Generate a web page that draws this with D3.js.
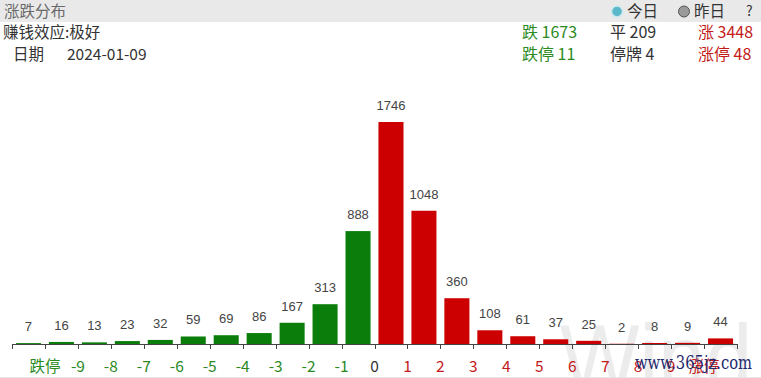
<!DOCTYPE html>
<html><head><meta charset="utf-8">
<script src="https://cdn.jsdelivr.net/npm/d3@7/dist/d3.min.js"></script>
<style>
html,body{margin:0;padding:0;background:#fff;}
svg{display:block;font-family:"Noto Sans CJK SC","Microsoft YaHei",sans-serif;}
</style></head>
<body><svg id="c" width="761" height="378"></svg>
<script>
// Data
const bucketValues = [7,16,13,23,32,59,69,86,167,313,888,1746,1048,360,108,61,37,25,2,8,9,44];
const tickLabels = ["跌停","-9","-8","-7","-6","-5","-4","-3","-2","-1","0","1","2","3","4","5","6","7","8","9","涨停"];
const summaryLeft = ["跌 1673","跌停 11"];
const summaryMid = ["平 209","停牌 4"];
const summaryRight = ["涨 3448","涨停 48"];
const title = "涨跌分布";
const effect = "赚钱效应:极好";
const dateLabel = "日期";
const dateValue = "2024-01-09";
const legendItems = ["今日","昨日"];

const GREEN = "#0a7d0a", RED = "#cc0000";
const LGREEN = "#2a8a1e", LRED = "#c41a1a";

const svg = d3.select("#c");

// header bar
svg.append("rect").attr("x",0).attr("y",0).attr("width",761).attr("height",22).attr("fill","#e9e9e9");
svg.append("text").attr("x",4).attr("y",17).attr("font-size",15.5).attr("fill","#6a6a6a").text(title);

// legend
const legColors = ["#5bb8c9","#9a9a9a"];
const legX = [617, 684];
legendItems.forEach((t,i)=>{
  svg.append("circle").attr("cx",legX[i]).attr("cy",11.5).attr("r",5.5)
    .attr("fill",legColors[i]).attr("stroke", i===0?"#cde9ef":"#555").attr("stroke-width",i===0?1.5:1);
  svg.append("text").attr("x",legX[i]+10).attr("y",17).attr("font-size",15.5).attr("fill","#333").text(t);
});
svg.append("text").attr("x",746).attr("y",16).attr("font-size",14).attr("fill","#333").text("?");

// info rows
svg.append("text").attr("x",3).attr("y",38).attr("font-size",15.5).attr("fill","#333").text(effect);
svg.append("text").attr("x",13).attr("y",60).attr("font-size",15.5).attr("fill","#333").text(dateLabel);
svg.append("text").attr("x",67).attr("y",60).attr("font-size",15.5).attr("fill","#333").text(dateValue);

const rowsY = [38,60];
[[summaryLeft,522,LGREEN],[summaryMid,610,"#333"],[summaryRight,698,LRED]].forEach(([arr,x,col])=>{
  arr.forEach((t,i)=>{
    svg.append("text").attr("x",x).attr("y",rowsY[i]).attr("font-size",16).attr("fill",col).text(t);
  });
});

// watermark Wind
svg.append("text").attr("x",560).attr("y",392).attr("font-size",96)
  .attr("font-family","Liberation Sans, Arial, sans-serif").attr("fill","#ececec")
  .attr("textLength",192).attr("lengthAdjust","spacingAndGlyphs").text("Wind");

// scales
const x = d3.scaleBand().domain(d3.range(bucketValues.length)).range([12,737]).paddingInner(0.24).paddingOuter(0.12);
const step = x.step();
const x0 = 12;
const y = d3.scaleLinear().domain([0,1746]).range([344,122]);

// bars
const redStart = 11;
svg.append("g").selectAll("rect").data(bucketValues).join("rect")
  .attr("x",(d,i)=>x(i)).attr("width",x.bandwidth())
  .attr("y",d=>y(d)).attr("height",d=>344-y(d))
  .attr("fill",(d,i)=> i<redStart?GREEN:RED);

// value labels
svg.append("g").selectAll("text").data(bucketValues).join("text")
  .attr("x",(d,i)=>x(i)+x.bandwidth()/2).attr("y",d=>y(d)-12)
  .attr("text-anchor","middle").attr("font-size",13).attr("fill","#444")
  .attr("font-family","Liberation Sans, Arial, sans-serif")
  .text(d=>d);

// axis
const tickPos = d3.range(bucketValues.length+1).map(i=>x0+i*step);
const ax = svg.append("g");
ax.append("line").attr("x1",12).attr("x2",737).attr("y1",344.5).attr("y2",344.5).attr("stroke","#444");
ax.selectAll("line.t").data(tickPos).join("line").attr("class","t")
  .attr("x1",d=>Math.round(d)+0.5).attr("x2",d=>Math.round(d)+0.5).attr("y1",344).attr("y2",349).attr("stroke","#444");
ax.selectAll("text").data(tickLabels).join("text")
  .attr("x",(d,i)=>tickPos[i+1]).attr("y",372)
  .attr("text-anchor","middle").attr("font-size",15.5)
  .attr("fill",(d,i)=> i<10?LGREEN:(i===10?"#333":LRED))
  .text(d=>d);

// bottom border
svg.append("line").attr("x1",0).attr("x2",761).attr("y1",377.5).attr("y2",377.5).attr("stroke","#e6e6e6");

// site watermark
svg.append("text").attr("x",635).attr("y",369).attr("font-size",18)
  .attr("font-family","DejaVu Serif, serif").attr("fill","#1d2a6e")
  .attr("textLength",117).attr("lengthAdjust","spacingAndGlyphs").text("www.365jz.com");
</script>
</body></html>
